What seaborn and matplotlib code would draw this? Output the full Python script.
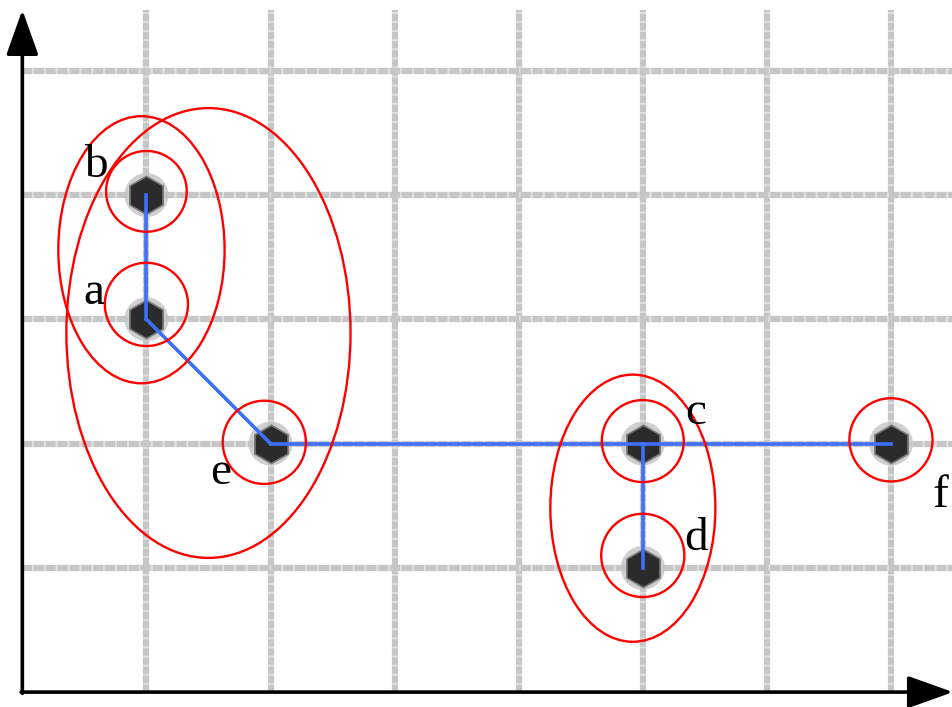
import numpy as np
import pandas as pd
import seaborn as sns
import matplotlib.pyplot as plt
from matplotlib.patches import Ellipse

# points
names = ['a', 'b', 'c', 'd', 'e', 'f']
xs = [1, 1, 5, 5, 2, 7]
ys = [3, 4, 2, 1, 2, 2]
# label offsets in pixels
lab_dx = [-53, -51, 53, 53, -50, 49]
lab_dy = [27, 29, 31, 29, -29, -52]

# tree edges
edges = [('b', 'a'), ('a', 'e'), ('e', 'c'), ('c', 'f'), ('c', 'd')]

# cluster outlines: (cx, cy, width, height)
small_cx = [1.0, 1.0, 5.0, 5.0, 1.95, 7.0]
small_cy = [3.12, 4.03, 2.02, 1.1, 2.01, 2.03]
small_d = [0.67, 0.65, 0.66, 0.67, 0.67, 0.67]
big_cx = [0.96, 1.5, 4.92]
big_cy = [3.56, 2.89, 1.48]
big_w = [1.34, 2.29, 1.33]
big_h = [2.15, 3.62, 2.15]

df = pd.DataFrame({'name': names, 'x': xs, 'y': ys})
pos = {n: (x, y) for n, x, y in zip(names, xs, ys)}

fig = plt.figure(figsize=(9.53, 7.07), dpi=100)
ax = fig.add_axes([0, 0, 1, 1])
ax.set_xlim(-0.18, 7.5)
ax.set_ylim(-0.12, 5.57)
ax.axis('off')

grid_col = '#c6c6c6'
gap_col = '#dedede'
for gx in range(1, 8):
    ax.plot([gx, gx], [0, 5.49], color=grid_col, lw=4.5, ls=(0, (1.2, 0.25)),
            gapcolor=gap_col, dash_capstyle='butt', zorder=1)
for gy in range(1, 6):
    ax.plot([0, 7.5], [gy, gy], color=grid_col, lw=4.5, ls=(0, (1.6, 0.3)),
            gapcolor=gap_col, dash_capstyle='butt', zorder=1)

# axes with arrows
astyle = '-|>,head_length=2.8,head_width=1.0'
ax.annotate('', xy=(7.5, 0), xytext=(-0.01, 0),
            arrowprops=dict(arrowstyle=astyle, color='black', lw=2.6,
                            shrinkA=0, shrinkB=0), zorder=5)
ax.annotate('', xy=(0, 5.49), xytext=(0, -0.01),
            arrowprops=dict(arrowstyle=astyle, color='black', lw=2.6,
                            shrinkA=0, shrinkB=0), zorder=5)

# soft halo + dark node
sns.scatterplot(data=df, x='x', y='y', s=1000, marker='o', color='#c4c4c4',
                edgecolor='none', alpha=0.8, ax=ax, zorder=2, legend=False)
sns.scatterplot(data=df, x='x', y='y', s=760, marker='h', color='#2b2b2b',
                edgecolor='#7a7a7a', linewidth=1.2, ax=ax, zorder=3, legend=False)

for u, v in edges:
    ax.plot([pos[u][0], pos[v][0]], [pos[u][1], pos[v][1]],
            color='#3f6ff5', lw=2.6, zorder=4)

for cx, cy, d in zip(small_cx, small_cy, small_d):
    ax.add_patch(Ellipse((cx, cy), d, d, fill=False, ec='red', lw=1.7, zorder=6))
for cx, cy, w, h in zip(big_cx, big_cy, big_w, big_h):
    ax.add_patch(Ellipse((cx, cy), w, h, fill=False, ec='red', lw=1.7, zorder=6))

for n, dx, dy in zip(names, lab_dx, lab_dy):
    ax.annotate(n, pos[n], xytext=(dx, dy), textcoords='offset pixels',
                ha='center', va='center', fontsize=34,
                family='Liberation Serif', zorder=7)

fig.savefig('out.png', dpi=100)
